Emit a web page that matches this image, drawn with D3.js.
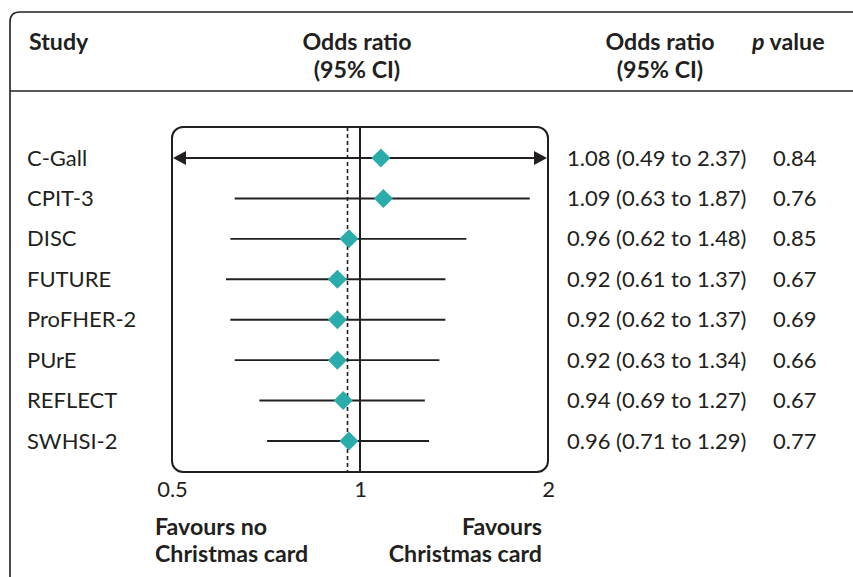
<!DOCTYPE html>
<html>
<head>
<meta charset="utf-8">
<script src="https://cdn.jsdelivr.net/npm/d3@7"></script>
<style>
  body { margin: 0; background: #fff; }
  svg { font-family: Lato, "Open Sans", sans-serif; }
</style>
</head>
<body>
<script>
// Daten aus der Abbildung
const studies = ["C-Gall", "CPIT-3", "DISC", "FUTURE", "ProFHER-2", "PUrE", "REFLECT", "SWHSI-2"];
const oddsRatios = [1.08, 1.09, 0.96, 0.92, 0.92, 0.92, 0.94, 0.96];
const lowerCI = [0.49, 0.63, 0.62, 0.61, 0.62, 0.63, 0.69, 0.71];
const upperCI = [2.37, 1.87, 1.48, 1.37, 1.37, 1.34, 1.27, 1.29];
const pValues = ["0.84", "0.76", "0.85", "0.67", "0.69", "0.66", "0.67", "0.77"];
const tickValues = [0.5, 1, 2];
const tickLabels = ["0.5", "1", "2"];
const pooledEstimate = 0.955;

const data = studies.map((s, i) => ({
    study: s, or: oddsRatios[i], lo: lowerCI[i], hi: upperCI[i], p: pValues[i]
}));

const width = 853, height = 577;
const ink = "#231f20";
const teal = "#2aacab";
const fsText = 22, fsBold = 23.2;

const svg = d3.select("body").append("svg")
    .attr("width", width)
    .attr("height", height);

// Skalen
const xScale = d3.scaleLog()
    .domain([0.5, 2])
    .range([172, 548]);

const yScale = d3.scalePoint()
    .domain(studies)
    .range([158, 441]);

// Äußerer Rahmen (links + oben, abgerundete Ecke)
svg.append("path")
    .attr("d", "M10,577 L10,22 Q10,12 20,12 L853,12")
    .attr("fill", "none")
    .attr("stroke", ink)
    .attr("stroke-width", 1.6);

svg.append("line")
    .attr("x1", 10).attr("x2", 853)
    .attr("y1", 91).attr("y2", 91)
    .attr("stroke", ink)
    .attr("stroke-width", 1.6);

// Kopfzeile
const header = svg.append("g")
    .attr("font-weight", "bold")
    .attr("font-size", fsBold)
    .attr("fill", ink);

header.append("text").attr("x", 29).attr("y", 50).text("Study");
header.append("text").attr("x", 357).attr("y", 50).attr("text-anchor", "middle").text("Odds ratio");
header.append("text").attr("x", 357).attr("y", 78).attr("text-anchor", "middle").text("(95% CI)");
header.append("text").attr("x", 660).attr("y", 50).attr("text-anchor", "middle").text("Odds ratio");
header.append("text").attr("x", 660).attr("y", 78).attr("text-anchor", "middle").text("(95% CI)");
const pv = header.append("text").attr("x", 752).attr("y", 50);
pv.append("tspan").attr("font-style", "italic").text("p");
pv.append("tspan").text(" value");

// Plot-Rahmen
svg.append("rect")
    .attr("x", xScale(0.5))
    .attr("y", 127)
    .attr("width", xScale(2) - xScale(0.5))
    .attr("height", 345)
    .attr("rx", 11)
    .attr("fill", "none")
    .attr("stroke", ink)
    .attr("stroke-width", 2);

// Referenzlinien
svg.append("line")
    .attr("x1", xScale(1)).attr("x2", xScale(1))
    .attr("y1", 127).attr("y2", 472)
    .attr("stroke", ink).attr("stroke-width", 2);

svg.append("line")
    .attr("x1", xScale(pooledEstimate)).attr("x2", xScale(pooledEstimate))
    .attr("y1", 127).attr("y2", 472)
    .attr("stroke", ink).attr("stroke-width", 1.6)
    .attr("stroke-dasharray", "4,3");

// Konfidenzintervalle
const [xMin, xMax] = xScale.domain();
const rows = svg.append("g");

rows.selectAll("line.ci")
    .data(data)
    .join("line")
    .attr("class", "ci")
    .attr("x1", d => xScale(Math.max(d.lo, xMin)) + (d.lo < xMin ? 4 : 0))
    .attr("x2", d => xScale(Math.min(d.hi, xMax)) + (d.hi > xMax ? -3 : 0))
    .attr("y1", d => yScale(d.study))
    .attr("y2", d => yScale(d.study))
    .attr("stroke", ink)
    .attr("stroke-width", 1.9);

// Pfeile für abgeschnittene Intervalle
data.forEach(d => {
    const y = yScale(d.study);
    if (d.lo < xMin) {
        const x = xScale(xMin) + 1;
        rows.append("path")
            .attr("d", `M${x},${y} L${x + 13},${y - 7} L${x + 13},${y + 7} Z`)
            .attr("fill", ink);
    }
    if (d.hi > xMax) {
        const x = xScale(xMax) - 1;
        rows.append("path")
            .attr("d", `M${x},${y} L${x - 13},${y - 7} L${x - 13},${y + 7} Z`)
            .attr("fill", ink);
    }
});

// Rauten
rows.selectAll("path.diamond")
    .data(data)
    .join("path")
    .attr("class", "diamond")
    .attr("transform", d => `translate(${xScale(d.or)},${yScale(d.study)})`)
    .attr("d", "M0,-9.5 L9.5,0 L0,9.5 L-9.5,0 Z")
    .attr("fill", teal);

// Textspalten
const textCols = svg.append("g")
    .attr("font-size", fsText)
    .attr("fill", ink);

textCols.selectAll("text.study")
    .data(data)
    .join("text")
    .attr("class", "study")
    .attr("x", 27)
    .attr("y", d => yScale(d.study) + 7.5)
    .text(d => d.study);

textCols.selectAll("text.ci")
    .data(data)
    .join("text")
    .attr("class", "ci")
    .attr("x", 567)
    .attr("y", d => yScale(d.study) + 7.5)
    .text(d => `${d.or.toFixed(2)} (${d.lo.toFixed(2)} to ${d.hi.toFixed(2)})`);

textCols.selectAll("text.p")
    .data(data)
    .join("text")
    .attr("class", "p")
    .attr("x", 773)
    .attr("y", d => yScale(d.study) + 7.5)
    .text(d => d.p);

// Achsenbeschriftung
const axis = d3.axisBottom(xScale)
    .tickValues(tickValues)
    .tickFormat((d, i) => tickLabels[i])
    .tickSize(0)
    .tickPadding(0);

const axisG = svg.append("g")
    .attr("transform", "translate(0,497)")
    .call(axis);
axisG.select(".domain").remove();
axisG.selectAll("text")
    .attr("font-family", "Lato, sans-serif")
    .attr("font-size", fsText)
    .attr("fill", ink)
    .attr("dy", 0)
    .attr("y", 0);

// Favours-Beschriftungen
const fav = svg.append("g")
    .attr("font-weight", "bold")
    .attr("font-size", fsBold)
    .attr("fill", ink);

fav.append("text").attr("x", 155).attr("y", 535).text("Favours no");
fav.append("text").attr("x", 155).attr("y", 562).text("Christmas card");
fav.append("text").attr("x", 542).attr("y", 535).attr("text-anchor", "end").text("Favours");
fav.append("text").attr("x", 542).attr("y", 562).attr("text-anchor", "end").text("Christmas card");
</script>
</body>
</html>
